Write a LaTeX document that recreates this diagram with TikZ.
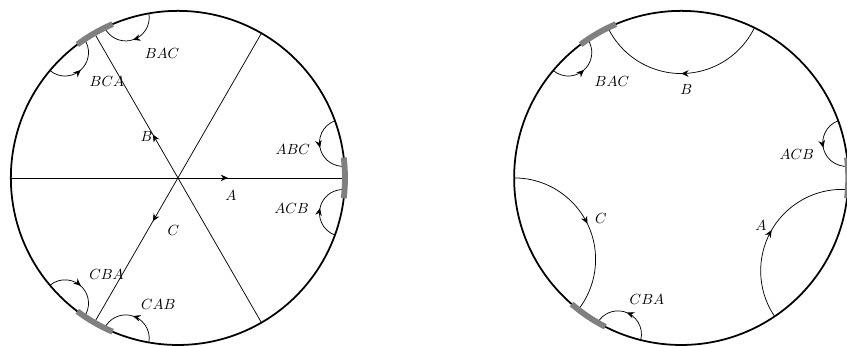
\documentclass[tikz,border=0pt]{standalone}
\usetikzlibrary{arrows.meta,decorations.markings}

\newcommand{\Rad}{4}
% orthogonal arc from boundary angle #1 to boundary angle #2
\newcommand{\geod}[2]{%
  \pgfmathsetmacro{\geoD}{abs((#2)-(#1))/2}%
  \pgfmathsetmacro{\geoR}{\Rad*tan(\geoD)}%
  \pgfmathsetmacro{\geoS}{sign((#2)-(#1))}%
  \draw[geo] (#1:\Rad) arc[start angle={(#1)-90*\geoS}, end angle={(#2)-270*\geoS}, radius=\geoR];%
}

\begin{document}
\begin{tikzpicture}[
  rim/.style={draw=black, line width=1.2pt},
  cutmark/.style={draw=gray, line width=4pt},
  ray/.style={draw=black, line width=0.5pt},
  midarrow/.style={postaction={decorate},
    decoration={markings, mark=at position #1 with {\arrow{Stealth[length=5pt,width=4.5pt]}}}},
  geo/.style={draw=black, line width=0.5pt, midarrow=0.5},
  lab/.style={inner sep=1pt}
]
\useasboundingbox (-4.26,-4.02) rectangle (16.02,4.26);

%% ===================== Left disk =====================
\coordinate (lo) at (0,0);
\draw[rim] (lo) circle[radius=\Rad];
\draw[ray, midarrow=0.3] (lo) -- (0:\Rad);
\draw[ray, midarrow=0.3] (lo) -- (120:\Rad);
\draw[ray, midarrow=0.3] (lo) -- (240:\Rad);
\draw[ray] (lo) -- (60:\Rad);
\draw[ray] (lo) -- (180:\Rad);
\draw[ray] (lo) -- (300:\Rad);

\geod{20}{4}
\geod{-20}{-4}
\geod{100}{116}
\geod{140}{124}
\geod{220}{236}
\geod{260}{244}

\foreach \c in {0,120,240}
  \draw[cutmark] (\c-7:\Rad) arc[start angle=\c-7, end angle=\c+7, radius=\Rad];

\node[lab] (lbac) at (-0.38, 2.99) {$BAC$};
\node[lab] (lbca) at (-1.70, 2.30) {$BCA$};
\node[lab] (lb)   at (-0.75, 0.99) {$B$};
\node[lab] (labc) at ( 2.75, 0.67) {$ABC$};
\node[lab] (la)   at ( 1.27,-0.41) {$A$};
\node[lab] (lacb) at ( 2.72,-0.73) {$ACB$};
\node[lab] (lc)   at (-0.11,-1.25) {$C$};
\node[lab] (lcba) at (-1.71,-2.32) {$CBA$};
\node[lab] (lcab) at (-0.47,-3.04) {$CAB$};

%% ===================== Right disk ====================
\begin{scope}[shift={(12.05,0)}]
\coordinate (ro) at (0,0);
\draw[rim] (ro) circle[radius=\Rad];

\geod{20}{4}
\geod{-56}{-4}
\geod{140}{124}
\geod{64}{116}
\geod{180}{232}
\geod{256}{240}

\foreach \c in {0,120,236}
  \draw[cutmark] (\c-7:\Rad) arc[start angle=\c-7, end angle=\c+7, radius=\Rad];

\node[lab] (rbac) at (-1.66, 2.31) {$BAC$};
\node[lab] (rb)   at ( 0.12, 2.11) {$B$};
\node[lab] (racb) at ( 2.77, 0.57) {$ACB$};
\node[lab] (rc)   at (-1.92,-0.97) {$C$};
\node[lab] (ra)   at ( 1.91,-1.13) {$A$};
\node[lab] (rcba) at (-0.82,-2.92) {$CBA$};
\end{scope}

\end{tikzpicture}
\end{document}
